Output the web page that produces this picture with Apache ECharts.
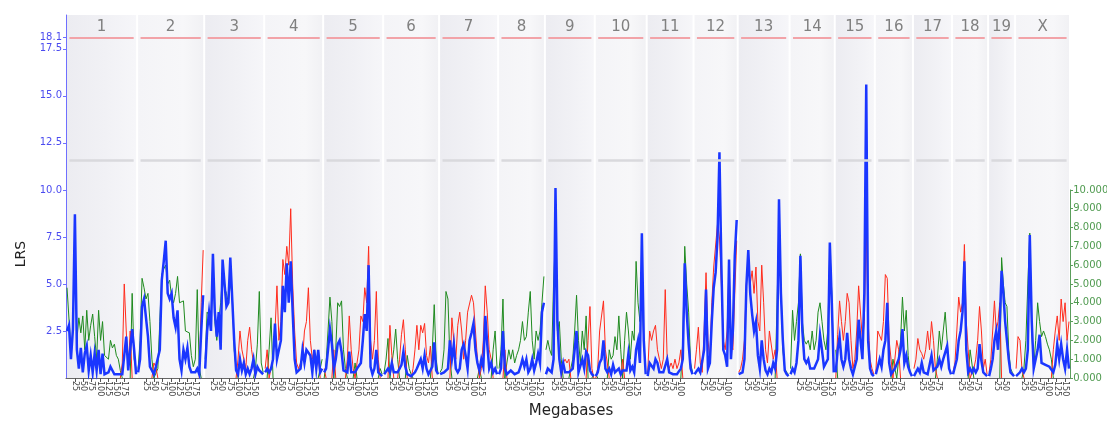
<!DOCTYPE html>
<html><head><meta charset="utf-8">
<script src="https://cdn.jsdelivr.net/npm/echarts@6/dist/echarts.min.js"></script>
<style>html,body{margin:0;padding:0;background:#fff}#c{width:1107px;height:423px}</style>
</head><body><div id="c"></div>
<script>
// ---------- data ----------
const CHR_NAMES = ['1','2','3','4','5','6','7','8','9','10','11','12','13','14','15','16','17','18','19','X'];
// panel extent per chromosome (Mb)
const CHR_LEN = [211,199,178,175,178,166,175,139,148,154,139,131,154,134,119,113,116,107,80,163];
// physical chromosome length (Mb), ticks drawn up to it
const CHR_REAL = [195,182,160,157,152,150,145,129,125,131,122,120,120,125,104,98,95,91,61,171];
const Y_TICKS = [2.5,5,7.5,10,12.5,15,17.5,18.1];
const SUGGESTIVE = 11.6;
const SIGNIFICANT = 18.1;

// LRS per chromosome, evenly spaced along each panel
const LRS_BY_CHR = [
 [2.5,2.8,1.0,2.6,8.7,1.5,0.5,1.6,0.3,1.3,1.7,0.4,1.2,0.3,1.3,0.4,1.5,0.2,1.3,0.2,0.1,0.3,0.6,0.4,0.2,0.2,0.2,0.1,0.2,1.2,2.2,0.4,0.3,2.6,1.5,0.2],
 [0.3,1.0,3.8,4.2,3.2,2.2,0.6,0.4,0.2,0.6,0.5,1.5,5.2,6.2,7.3,4.5,4.2,4.5,3.2,2.7,3.6,1.0,0.4,1.5,1.0,1.6,0.6,0.3,0.2,0.3,0.5,0.2,2.5,4.4],
 [0.5,2.5,3.5,2.5,6.6,3.5,2.2,3.5,1.5,6.3,6.3,3.8,4.0,6.4,6.4,2.0,0.4,0.2,1.0,0.4,0.8,0.2,0.5,0.2,0.5,1.0,0.2,0.6,0.4,0.3,0.2],
 [0.3,0.5,0.3,0.5,1.0,2.9,1.0,1.5,2.0,4.9,3.5,6.1,4.0,6.2,3.5,1.0,0.3,0.2,0.5,1.5,0.8,1.5,1.6,1.2,0.3,1.5,0.5,1.5,0.3,0.5],
 [0.3,0.5,1.5,2.6,1.8,0.5,1.0,1.8,2.0,1.4,0.4,0.5,0.3,1.4,0.3,0.2,0.3,0.5,0.4,0.8,2.0,3.4,2.5,6.0,0.6,0.2,0.5,1.5,0.3,0.2,0.1],
 [0.2,0.3,0.5,0.3,0.8,0.3,0.2,0.3,0.5,0.7,1.4,0.6,0.2,0.2,0.1,0.2,0.3,0.5,0.6,1.0,0.5,1.2,0.5,0.2,0.2,0.6,1.9,0.4,0.2],
 [0.2,0.3,0.3,0.2,0.5,2.0,1.0,1.8,0.5,0.3,0.5,1.5,1.8,1.2,0.5,2.0,2.4,2.9,1.5,0.8,0.4,1.0,0.6,3.3,1.8,0.5,0.8,0.3,0.5,0.2],
 [0.2,0.5,2.5,0.5,0.2,0.3,0.4,0.5,0.2,0.3,0.3,0.6,1.0,0.6,1.0,0.3,0.5,1.0,0.4,0.8,1.3,0.8,3.5,4.0],
 [0.2,0.5,0.4,0.3,1.0,10.1,3.0,1.0,0.3,0.8,0.3,0.2,0.3,0.4,0.5,0.6,2.5,0.3,0.3,1.0,0.5,1.4,1.2,0.4,0.2,0.1],
 [0.1,0.3,0.8,1.0,2.0,0.5,0.3,0.5,0.2,0.7,0.3,0.3,0.5,0.2,0.4,0.5,0.4,1.3,0.4,0.6,0.3,1.5,2.0,0.8,7.7,2.0,0.2],
 [0.1,0.8,0.8,0.5,1.0,0.8,0.3,0.4,0.3,0.2,1.0,0.3,0.3,0.2,0.3,0.2,0.3,0.5,1.0,6.1,3.5,1.8,0.5,0.2],
 [0.2,0.3,0.5,0.3,0.2,1.5,4.7,0.5,0.8,3.0,4.8,5.6,7.5,12.0,6.0,1.5,1.2,0.6,6.3,1.0,2.5,6.5,8.4],
 [0.2,0.2,0.3,1.0,4.9,6.8,4.5,3.4,2.5,3.0,1.2,0.5,2.0,1.0,0.4,0.2,0.5,0.3,0.8,0.5,1.5,9.5,4.5,2.0,0.4,0.2,0.1],
 [0.2,0.5,0.3,0.8,2.0,6.5,2.5,1.0,0.8,1.0,0.5,0.6,0.5,0.5,1.0,2.3,1.5,0.6,0.8,1.0,7.2,4.0,0.3],
 [0.3,1.5,2.2,1.0,0.6,1.0,2.4,1.0,0.5,0.2,0.2,1.0,3.1,2.0,1.0,4.5,15.6,2.0,0.5,0.2,0.1],
 [0.2,0.6,1.0,0.6,1.5,2.0,4.0,0.8,0.2,0.3,0.5,0.5,1.0,1.5,2.6,0.8,1.2,0.6,0.3,0.1],
 [0.1,0.3,0.5,0.3,0.8,0.3,0.3,0.2,0.3,1.2,0.4,0.3,0.6,1.0,0.6,1.0,1.0,1.7,0.5,0.2],
 [0.2,0.3,1.0,2.0,2.5,3.5,6.2,1.5,0.3,0.5,0.3,0.5,0.3,0.5,1.8,0.9,0.3,0.2,0.1],
 [0.1,0.5,1.0,2.0,2.5,1.5,3.0,5.7,4.5,3.0,2.0,1.0,0.3,0.2,0.1],
 [0.1,0.2,0.3,0.5,0.3,0.5,1.5,7.6,3.0,0.5,0.5,1.5,2.3,0.8,0.7,0.7,0.6,0.6,0.5,0.3,0.7,1.8,1.0,1.8,1.0,0.5,1.5,0.5]
];

// additive effect per chromosome (positive drawn green, negative drawn red)
const ADD_BY_CHR = [
 [4.8,4.9,1.5,2.5,7.5,2.0,3.2,2.4,3.3,1.5,3.6,2.0,2.8,3.4,2.2,1.0,3.6,2.0,3.0,1.2,1.2,1.0,2.0,1.6,1.8,1.2,1.0,0.4,-0.8,-5.0,-2.5,-0.5,-2.5,4.5,1.0,0.5],
 [0.5,2.0,5.3,4.8,4.2,4.5,3.0,1.0,-0.8,-0.6,0.5,3.0,5.5,5.8,6.0,5.0,5.2,4.3,4.0,4.5,5.4,4.0,4.0,4.1,2.5,2.5,2.4,1.2,0.6,1.0,4.7,0.5,-4.0,-6.8],
 [1.0,3.5,3.5,3.2,6.4,3.0,2.0,3.0,4.0,5.5,4.8,4.5,4.0,5.0,4.5,1.5,0.5,-1.0,-2.5,-1.5,-1.0,-0.5,-2.0,-2.7,-1.5,-0.8,0.5,1.8,4.6,0.8,0.3],
 [-0.5,-1.5,1.5,3.2,-1.0,-2.5,-4.9,-2.0,-3.0,-6.3,-5.5,-7.0,-6.0,-9.0,-5.0,-2.5,-0.8,-0.5,-0.8,-1.0,-2.5,-3.0,-4.8,-2.0,-1.0,-1.5,-0.5,-1.2,0.5,1.0],
 [-0.5,0.8,2.5,4.3,3.0,-1.5,1.5,4.0,3.8,4.1,1.5,0.5,-1.0,-3.3,-1.5,-0.5,0.8,-0.8,-1.5,-3.3,-3.0,-4.8,-4.0,-7.0,-2.0,-1.0,-2.0,-4.6,-1.0,0.5,0.2],
 [0.3,1.0,2.1,-2.8,-1.2,1.5,2.6,1.0,-1.0,-2.3,-3.1,-1.5,1.2,0.5,0.2,-0.5,-1.5,-2.8,-1.5,-2.8,-2.4,-2.9,-1.2,-0.8,-1.7,1.5,3.9,1.0,0.2],
 [0.3,0.5,1.5,4.6,4.2,1.0,-3.2,-2.0,-1.0,-2.8,-3.5,-2.5,-1.0,-2.0,-3.5,-3.6,-4.4,-4.0,-2.5,-1.0,0.5,-0.5,-2.0,-4.9,-3.5,-1.5,-1.0,1.5,2.5,0.5],
 [0.5,1.5,4.2,-1.5,0.8,1.5,1.0,1.5,0.8,1.2,1.5,2.0,3.0,2.0,2.2,3.5,4.6,2.0,1.0,2.5,2.0,2.5,4.0,5.4],
 [1.5,2.0,1.5,1.2,5.0,7.5,2.5,3.0,1.0,-0.8,-1.0,-0.8,-1.0,0.5,1.0,2.5,4.4,2.0,0.8,2.5,1.5,3.3,-2.0,-3.8,-0.5,0.2],
 [0.2,-0.5,-2.5,-2.5,-4.1,-1.5,-0.8,1.5,1.0,1.2,2.2,1.5,3.3,1.5,-1.0,2.0,3.5,2.5,1.0,2.5,2.0,6.2,4.0,3.0,4.5,2.0,0.3],
 [-0.3,-2.5,-2.0,-2.5,-2.8,-1.5,-1.0,-0.5,-1.0,-4.7,-1.0,-0.5,-0.8,-0.5,-1.0,-0.5,-0.8,-1.5,2.0,7.0,5.0,3.5,0.8,0.3],
 [-0.5,-1.5,-2.7,-0.8,-0.3,-2.5,-5.6,-2.0,-1.0,-4.0,-5.9,-6.0,-8.2,-7.5,-5.0,-2.0,-1.5,-2.5,-6.0,-2.0,-1.5,-4.5,-7.3],
 [-0.3,-0.5,-1.0,-2.0,-5.0,-6.5,-5.0,-5.7,-4.5,-5.9,-3.0,-2.5,-6.0,-4.0,-1.5,-0.8,-2.5,-2.5,-1.0,-1.5,4.0,8.5,5.0,1.5,0.5,0.3,0.2],
 [0.5,3.6,2.0,3.0,4.0,6.6,3.0,2.0,1.8,2.0,1.5,2.5,1.5,2.0,3.5,4.0,3.0,2.0,1.5,2.6,7.0,4.5,0.5],
 [1.5,-2.3,-4.1,-3.0,-2.0,-3.0,-4.5,-4.0,-2.0,-0.5,-1.0,-2.5,-4.9,-4.8,-2.0,-3.0,-8.0,-3.0,-1.0,-0.5,-0.2],
 [-0.3,-2.5,-2.5,-2.0,-3.0,-5.5,-5.3,-2.0,-1.0,1.0,0.5,-2.0,-1.5,2.0,4.3,2.5,3.6,1.2,0.3,0.1],
 [-0.5,-1.0,-2.1,-1.5,-1.3,-1.0,-1.5,-2.5,-1.5,-3.0,-2.0,-0.5,1.0,2.5,1.5,2.5,3.5,2.0,0.5,0.2],
 [-0.3,-0.8,-2.5,-4.3,-3.5,-4.0,-7.1,-3.0,-1.5,1.5,1.5,-0.5,-1.0,-2.0,-3.8,-2.5,-0.5,-1.0,-0.2],
 [-0.3,-1.0,-2.5,-4.1,-2.5,-3.0,-4.0,6.4,5.0,4.0,3.8,1.5,0.5,0.3,0.1],
 [-0.5,-2.2,-2.0,-0.5,0.5,2.0,5.0,7.7,2.5,0.5,2.0,4.0,3.0,2.2,2.5,2.2,1.8,1.5,1.0,-1.5,-2.5,-3.3,-2.0,-4.2,-3.0,-4.0,-2.0,-3.0]
];

// ---------- layout ----------
const W = 1107, H = 423;
const PLOT_L = 66, PLOT_R = 1070, PLOT_T = 15, PLOT_B = 378;
const YMAX = 19.3;
const FONT = 'DejaVu Sans';
const BLUE = '#1a36ff', RED = '#ff2b1c', GREEN = '#1f8a1f';

const totalLen = CHR_LEN.reduce((a, b) => a + b, 0);
const pxPerMb = (PLOT_R - PLOT_L) / totalLen;

function positions(arr, len) {
  return arr.map((v, k) => [k * len / (arr.length - 1), v]);
}
function splitSign(arr, sign) {
  return arr.map((v, i) => {
    const s = v * sign;
    if (s > 0) return s;
    const p = arr[i - 1], n = arr[i + 1];
    if ((p !== undefined && p * sign > 0) || (n !== undefined && n * sign > 0)) return 0;
    return null;
  });
}

const grids = [], xAxes = [], yAxes = [], series = [], graphics = [];
let cum = 0;
CHR_NAMES.forEach((name, i) => {
  const len = CHR_LEN[i];
  const left = PLOT_L + cum * pxPerMb;
  const w = len * pxPerMb;
  cum += len;
  const odd = i % 2 === 0;
  grids.push({
    left: left + 1, width: w - 2, top: PLOT_T, bottom: H - PLOT_B,
    show: true, borderWidth: 0,
    backgroundColor: {
      type: 'linear', x: 0, y: 0, x2: 1, y2: 0,
      colorStops: odd
        ? [{offset: 0, color: '#ececf1'}, {offset: 0.55, color: '#f1f1f5'}, {offset: 1, color: '#f6f6f9'}]
        : [{offset: 0, color: '#f4f4f7'}, {offset: 0.7, color: '#f7f7f9'}, {offset: 1, color: '#f1f1f4'}]
    }
  });
  const ticks = [];
  for (let t = 25; t <= CHR_REAL[i]; t += 25) ticks.push(t);
  xAxes.push({
    gridIndex: i, type: 'value', min: 0, max: len,
    axisLine: {show: false},
    splitLine: {show: false},
    axisTick: {show: true, length: 4, customValues: ticks, lineStyle: {color: '#555'}},
    axisLabel: {show: true, customValues: ticks, rotate: -90, fontSize: 8, color: '#444',
      margin: 3, fontFamily: FONT}
  });
  yAxes.push({gridIndex: i, type: 'value', min: 0, max: YMAX, show: false, splitLine: {show: false}});
  const add = ADD_BY_CHR[i];
  const padMb = 2.5 / pxPerMb;
  series.push({
    type: 'line', xAxisIndex: i, yAxisIndex: i, z: 2,
    data: positions(splitSign(add, 1), len), showSymbol: false, connectNulls: false,
    lineStyle: {color: GREEN, width: 1}, itemStyle: {color: GREEN}, silent: true,
    markLine: {
      silent: true, symbol: 'none', label: {show: false},
      data: [
        [{coord: [padMb, SIGNIFICANT], lineStyle: {color: '#f2a3a8', width: 2, type: 'solid'}}, {coord: [len - padMb, SIGNIFICANT]}],
        [{coord: [padMb, SUGGESTIVE], lineStyle: {color: '#d9d9dd', width: 2.5, type: 'solid'}}, {coord: [len - padMb, SUGGESTIVE]}]
      ]
    }
  });
  series.push({
    type: 'line', xAxisIndex: i, yAxisIndex: i, z: 3,
    data: positions(splitSign(add, -1), len), showSymbol: false, connectNulls: false,
    lineStyle: {color: RED, width: 1}, itemStyle: {color: RED}, silent: true
  });
  series.push({
    type: 'line', xAxisIndex: i, yAxisIndex: i, z: 4,
    data: positions(LRS_BY_CHR[i], len), showSymbol: false,
    lineStyle: {color: BLUE, width: 2.5, join: 'miter'}, itemStyle: {color: BLUE}, silent: true
  });
  graphics.push({
    type: 'text', x: left + w / 2, y: 27, silent: true,
    style: {text: name, fill: '#808080', fontSize: 15, fontFamily: FONT, align: 'center', verticalAlign: 'middle'}
  });
});

// frame grid: left LRS axis and continuous bottom axis line
const fi = grids.length;
grids.push({left: PLOT_L, width: PLOT_R - PLOT_L, top: PLOT_T, bottom: H - PLOT_B, show: false});
xAxes.push({gridIndex: fi, type: 'value', min: 0, max: 1,
  axisLine: {show: true, lineStyle: {color: '#666', width: 1}},
  axisTick: {show: false}, axisLabel: {show: false}, splitLine: {show: false}});
yAxes.push({gridIndex: fi, type: 'value', min: 0, max: YMAX, position: 'left',
  axisLine: {show: true, lineStyle: {color: '#6f6fff', width: 1}},
  axisTick: {show: true, length: 3, customValues: Y_TICKS, lineStyle: {color: '#6f6fff'}},
  axisLabel: {show: true, customValues: Y_TICKS, color: '#4b4bf0', fontSize: 10, margin: 4, fontFamily: FONT,
    formatter: v => Number(v).toFixed(1)},
  splitLine: {show: false}});

// right additive-effect axis (same px scale, 0..10)
const ri = grids.length;
const rTop = PLOT_T + (YMAX - 10) / YMAX * (PLOT_B - PLOT_T);
grids.push({left: PLOT_R, width: 1, top: rTop, bottom: H - PLOT_B, show: false});
xAxes.push({gridIndex: ri, type: 'value', min: 0, max: 1, show: false});
yAxes.push({gridIndex: ri, type: 'value', min: 0, max: 10, interval: 1, position: 'right',
  axisLine: {show: true, lineStyle: {color: '#5b9e5b', width: 1}},
  axisTick: {show: true, length: 3, lineStyle: {color: '#5b9e5b'}},
  axisLabel: {show: true, color: '#4f9a4f', fontSize: 10, margin: 3, fontFamily: FONT,
    formatter: v => Number(v).toFixed(3)},
  splitLine: {show: false}});

graphics.push({
  type: 'text', x: 21, y: 254, rotation: Math.PI / 2, silent: true,
  style: {text: 'LRS', fill: '#222', fontSize: 14, fontFamily: FONT, align: 'center', verticalAlign: 'middle'}
});
graphics.push({
  type: 'text', x: 571, y: 411, silent: true,
  style: {text: 'Megabases', fill: '#222', fontSize: 15, fontFamily: FONT, align: 'center', verticalAlign: 'middle'}
});

const chart = echarts.init(document.getElementById('c'), null, {renderer: 'canvas'});
chart.setOption({
  animation: false,
  backgroundColor: '#ffffff',
  textStyle: {fontFamily: FONT},
  grid: grids, xAxis: xAxes, yAxis: yAxes, series: series,
  graphic: graphics
});
</script>
</body></html>
